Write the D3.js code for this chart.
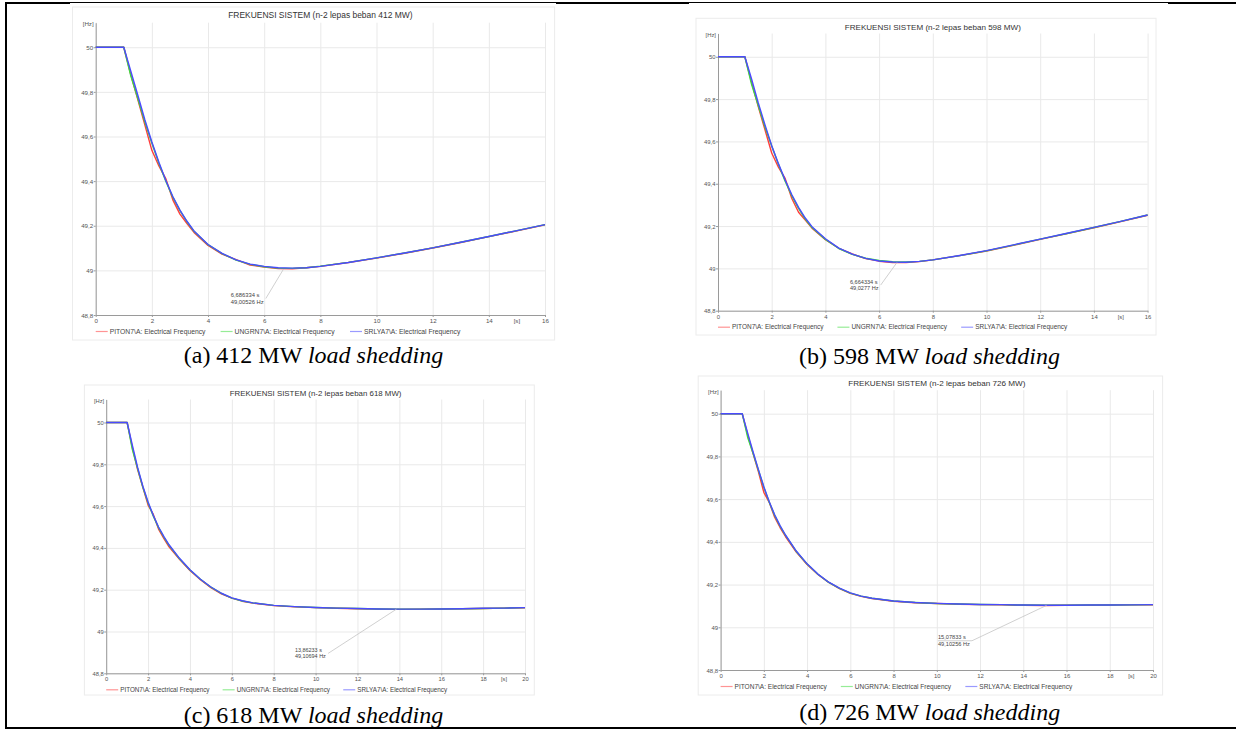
<!DOCTYPE html>
<html>
<head>
<meta charset="utf-8">
<script src="https://cdn.jsdelivr.net/npm/d3@7"></script>
<style>
  body { margin: 0; background: #fff; }
  svg { display: block; }
</style>
</head>
<body>
<div id="chart"></div>
<script>
var svgWidth = 1236;
var svgHeight = 729;

// chart texts
var titles = [
  "FREKUENSI SISTEM (n-2 lepas beban 412 MW)",
  "FREKUENSI SISTEM (n-2 lepas beban 598 MW)",
  "FREKUENSI SISTEM (n-2 lepas beban 618 MW)",
  "FREKUENSI SISTEM (n-2 lepas beban 726 MW)"
];
var letters = ["(a)", "(b)", "(c)", "(d)"];
var loads = ["412 MW", "598 MW", "618 MW", "726 MW"];
var seriesNames = [
  "PITON7\\A: Electrical Frequency",
  "UNGRN7\\A: Electrical Frequency",
  "SRLYA7\\A: Electrical Frequency"
];

// ticks
var yTicks = [48.8, 49, 49.2, 49.4, 49.6, 49.8, 50];
var yTickLabels = ["48,8", "49", "49,2", "49,4", "49,6", "49,8", "50"];
var xTicks16 = [0, 2, 4, 6, 8, 10, 12, 14, 16];
var xTicks20 = [0, 2, 4, 6, 8, 10, 12, 14, 16, 18, 20];

// time [s]
var timeAB = [0, 1, 1.25, 1.5, 1.75, 2, 2.25, 2.5, 2.75, 3, 3.25, 3.5, 4, 4.5, 5, 5.5, 6, 6.5, 7, 7.5, 8, 9, 10, 11, 12, 13, 14, 15, 16];
var timeCD = [0, 1, 1.25, 1.5, 1.75, 2, 2.25, 2.5, 2.75, 3, 3.5, 4, 4.5, 5, 5.5, 6, 6.5, 7, 8, 9, 10, 11, 12, 13, 14, 15, 16, 17, 18, 19, 20];

// frequency [Hz] - 412 MW
var pitonA = [50, 50, 49.878, 49.765, 49.652, 49.538, 49.468, 49.41, 49.315, 49.252, 49.21, 49.17, 49.112, 49.073, 49.048, 49.024, 49.015, 49.008, 49.007, 49.012, 49.018, 49.035, 49.055, 49.077, 49.1, 49.125, 49.151, 49.177, 49.204];
var ungrnA = [50, 50, 49.872, 49.77, 49.665, 49.57, 49.48, 49.398, 49.327, 49.268, 49.218, 49.175, 49.115, 49.075, 49.046, 49.027, 49.016, 49.01, 49.009, 49.012, 49.019, 49.036, 49.056, 49.078, 49.101, 49.126, 49.152, 49.178, 49.205];
var srlyaA = [50, 50, 49.893, 49.785, 49.675, 49.575, 49.485, 49.402, 49.33, 49.27, 49.22, 49.177, 49.116, 49.076, 49.047, 49.028, 49.018, 49.012, 49.01, 49.012, 49.018, 49.035, 49.056, 49.078, 49.101, 49.126, 49.152, 49.178, 49.205];

// 598 MW
var pitonB = [50, 50, 49.88, 49.765, 49.655, 49.545, 49.478, 49.425, 49.33, 49.265, 49.228, 49.19, 49.136, 49.095, 49.068, 49.046, 49.034, 49.027, 49.027, 49.032, 49.04, 49.06, 49.082, 49.109, 49.137, 49.164, 49.192, 49.221, 49.251];
var ungrnB = [50, 50, 49.87, 49.77, 49.668, 49.578, 49.492, 49.412, 49.343, 49.283, 49.233, 49.193, 49.137, 49.094, 49.066, 49.048, 49.037, 49.031, 49.03, 49.033, 49.04, 49.06, 49.083, 49.11, 49.138, 49.165, 49.193, 49.222, 49.252];
var srlyaB = [50, 50, 49.895, 49.782, 49.678, 49.58, 49.495, 49.418, 49.348, 49.288, 49.238, 49.197, 49.14, 49.096, 49.067, 49.047, 49.035, 49.03, 49.029, 49.033, 49.04, 49.061, 49.084, 49.111, 49.138, 49.166, 49.194, 49.222, 49.252];

// 618 MW
var pitonC = [50, 50, 49.88, 49.775, 49.69, 49.605, 49.56, 49.49, 49.445, 49.405, 49.345, 49.292, 49.248, 49.21, 49.18, 49.16, 49.145, 49.136, 49.124, 49.118, 49.114, 49.111, 49.109, 49.107, 49.106, 49.107, 49.108, 49.109, 49.11, 49.112, 49.113];
var ungrnC = [50, 50, 49.87, 49.78, 49.69, 49.615, 49.552, 49.497, 49.452, 49.412, 49.348, 49.294, 49.25, 49.212, 49.182, 49.16, 49.146, 49.137, 49.125, 49.119, 49.115, 49.112, 49.11, 49.108, 49.107, 49.107, 49.108, 49.109, 49.11, 49.112, 49.114];
var srlyaC = [50, 50, 49.89, 49.785, 49.695, 49.62, 49.555, 49.5, 49.455, 49.415, 49.35, 49.295, 49.25, 49.213, 49.183, 49.161, 49.147, 49.137, 49.125, 49.119, 49.115, 49.112, 49.11, 49.108, 49.107, 49.107, 49.108, 49.109, 49.111, 49.112, 49.114];

// 726 MW
var pitonD = [50, 50, 49.902, 49.815, 49.728, 49.632, 49.585, 49.515, 49.467, 49.425, 49.352, 49.294, 49.247, 49.21, 49.181, 49.159, 49.145, 49.135, 49.122, 49.115, 49.111, 49.108, 49.106, 49.105, 49.103, 49.102, 49.103, 49.103, 49.104, 49.105, 49.105];
var ungrnD = [50, 50, 49.89, 49.815, 49.735, 49.655, 49.585, 49.524, 49.473, 49.43, 49.355, 49.296, 49.248, 49.21, 49.182, 49.16, 49.146, 49.136, 49.123, 49.116, 49.111, 49.109, 49.107, 49.106, 49.104, 49.103, 49.103, 49.104, 49.104, 49.105, 49.106];
var srlyaD = [50, 50, 49.91, 49.822, 49.738, 49.658, 49.588, 49.527, 49.476, 49.432, 49.357, 49.297, 49.249, 49.211, 49.183, 49.161, 49.146, 49.136, 49.123, 49.116, 49.112, 49.109, 49.107, 49.106, 49.104, 49.103, 49.103, 49.104, 49.104, 49.105, 49.106];

// minimum markers
var minTimes = [6.686334, 6.664334, 13.86233, 15.07833];
var minFreqs = [49.00526, 49.0277, 49.10694, 49.10256];
var minTimeLabels = ["6,686334 s", "6,664334 s", "13,86233 s", "15,07833 s"];
var minFreqLabels = ["49,00526 Hz", "49,0277 Hz", "49,10694 Hz", "49,10256 Hz"];

var times = [timeAB, timeAB, timeCD, timeCD];
var freqs = [[pitonA, ungrnA, srlyaA], [pitonB, ungrnB, srlyaB], [pitonC, ungrnC, srlyaC], [pitonD, ungrnD, srlyaD]];
var xTickSets = [xTicks16, xTicks16, xTicks20, xTicks20];

// panel layout (pixels)
var panels = [
  { box: [72.5, 7, 554.6, 340], px: [95.7, 545], py: [315, 22.7], titleY: 15, note: [-52.8, 25.8], underline: false, cap: [313.5, 363] },
  { box: [696, 18.3, 1156, 335], px: [718, 1147.6], py: [310.7, 33.5], titleY: 26.7, note: [-47, 19.2], underline: false, cap: [929.5, 363.5] },
  { box: [84.4, 385, 534.3, 695], px: [106.2, 525], py: [673.3, 399.5], titleY: 393.3, note: [-101.5, 41], underline: false, cap: [313.5, 723] },
  { box: [698.2, 376, 1162.6, 695], px: [720.6, 1153], py: [670, 390.2], titleY: 383.3, note: [-108.6, 32], underline: true, cap: [929.7, 720] }
];

var lineColors = ["#ff3c3c", "#3ed83e", "#4a4aff"];
var legendColors = ["#ff9494", "#96ec96", "#9a9aff"];
var sans = "'Liberation Sans', Arial, sans-serif";

var svg = d3.select("#chart")
  .append("svg")
  .attr("width", svgWidth)
  .attr("height", svgHeight);

svg.append("rect").attr("width", svgWidth).attr("height", svgHeight).attr("fill", "#fff");

panels.forEach(function(p, i) {
  var g = svg.append("g");
  var W = p.px[1] - p.px[0];
  var H = p.py[0] - p.py[1];
  var fsTitle = W * 0.0188, fsLegend = W * 0.0151, fsTick = W * 0.0138, fsNote = W * 0.013;
  var xt = xTickSets[i];
  var tmax = xt[xt.length - 1];

  var x = d3.scaleLinear().domain([0, tmax]).range(p.px);
  var y = d3.scaleLinear().domain([48.8, 50.11]).range(p.py);

  // frame of the exported picture
  g.append("rect")
    .attr("x", p.box[0]).attr("y", p.box[1])
    .attr("width", p.box[2] - p.box[0]).attr("height", p.box[3] - p.box[1])
    .attr("fill", "#fff").attr("stroke", "#ececec").attr("stroke-width", 1);

  // grid
  g.append("g")
    .attr("transform", `translate(0, ${p.py[0]})`)
    .call(d3.axisBottom(x).tickValues(xt).tickSize(-H).tickFormat(""))
    .call(s => s.select(".domain").remove())
    .selectAll("line").attr("stroke", "#e9e9e9");

  g.append("g")
    .attr("transform", `translate(${p.px[0]}, 0)`)
    .call(d3.axisLeft(y).tickValues(yTicks).tickSize(-W).tickFormat(""))
    .call(s => s.select(".domain").remove())
    .selectAll("line").attr("stroke", "#e9e9e9");

  // axes
  var yAxis = g.append("g")
    .attr("transform", `translate(${p.px[0]}, 0)`)
    .call(d3.axisLeft(y).tickValues(yTicks).tickSize(2).tickSizeOuter(0)
      .tickFormat((d, k) => yTickLabels[k]));
  yAxis.select(".domain").attr("stroke", "#9a9a9a");
  yAxis.selectAll("line").attr("stroke", "#9a9a9a");
  yAxis.selectAll("text")
    .attr("x", -2.5).attr("dy", "0.35em")
    .attr("fill", "#555").style("font-family", sans).style("font-size", fsTick + "px");

  var xAxis = g.append("g")
    .attr("transform", `translate(0, ${p.py[0]})`)
    .call(d3.axisBottom(x).tickValues(xt).tickSize(2).tickSizeOuter(0));
  xAxis.select(".domain").attr("stroke", "#9a9a9a");
  xAxis.selectAll("line").attr("stroke", "#9a9a9a");
  xAxis.selectAll("text")
    .attr("y", 6).attr("dy", "0.35em")
    .attr("fill", "#555").style("font-family", sans).style("font-size", fsTick + "px");

  g.append("text")
    .attr("x", x((xt[xt.length - 2] + tmax) / 2)).attr("y", p.py[0] + 6).attr("dy", "0.35em")
    .attr("text-anchor", "middle")
    .attr("fill", "#555").style("font-family", sans).style("font-size", fsTick + "px")
    .text("[s]");

  g.append("text")
    .attr("x", p.px[0] - 2).attr("y", p.py[1] + 1.5).attr("dy", "0.35em")
    .attr("text-anchor", "end")
    .attr("fill", "#555").style("font-family", sans).style("font-size", fsTick + "px")
    .text("[Hz]");

  // title
  g.append("text")
    .attr("x", (p.px[0] + p.px[1]) / 2).attr("y", p.titleY).attr("dy", "0.35em")
    .attr("text-anchor", "middle")
    .attr("fill", "#333").style("font-family", sans).style("font-size", fsTitle + "px")
    .text(titles[i]);

  // curves
  var line = d3.line()
    .x(d => x(d[0]))
    .y(d => y(d[1]));

  freqs[i].forEach(function(vals, k) {
    var pts = times[i].map((t, j) => [t, vals[j]]);
    g.append("path")
      .datum(pts)
      .attr("d", line)
      .attr("fill", "none")
      .attr("stroke", lineColors[k])
      .attr("stroke-width", 1.4)
      .attr("stroke-linejoin", "round");
  });

  // minimum annotation
  var mx = x(minTimes[i]), my = y(minFreqs[i]);
  var tx = mx + p.note[0], ty = my + p.note[1];
  var noteText = g.append("text")
    .attr("fill", "#444").style("font-family", sans).style("font-size", fsNote + "px");
  noteText.append("tspan").attr("x", tx).attr("y", ty).attr("dy", "0.35em").text(minTimeLabels[i]);
  noteText.append("tspan").attr("x", tx).attr("y", ty + fsNote * 1.15).attr("dy", "0.35em").text(minFreqLabels[i]);
  var tw = noteText.node().getBBox().width;
  var sx = tx + tw + 2, sy = ty + fsNote * 0.6;
  var lead = p.underline ? [[tx, sy], [sx, sy], [mx, my]] : [[sx, sy], [mx, my]];
  g.append("path")
    .attr("d", d3.line()(lead))
    .attr("fill", "none").attr("stroke", "#c4c4c4").attr("stroke-width", 0.8);

  // legend
  var legendX = [0, 0.278, 0.566];
  var ly = p.py[0] + 16.5;
  seriesNames.forEach(function(name, k) {
    var lx = p.px[0] + legendX[k] * W;
    g.append("line")
      .attr("x1", lx).attr("x2", lx + 12).attr("y1", ly).attr("y2", ly)
      .attr("stroke", legendColors[k]).attr("stroke-width", 1.2);
    g.append("text")
      .attr("x", lx + 14).attr("y", ly).attr("dy", "0.35em")
      .attr("fill", "#444").style("font-family", sans).style("font-size", fsLegend + "px")
      .text(name);
  });

  // caption
  var cap = svg.append("text")
    .attr("x", p.cap[0]).attr("y", p.cap[1])
    .attr("text-anchor", "middle")
    .attr("fill", "#000")
    .style("font-family", "'Liberation Serif', 'Times New Roman', serif")
    .style("font-size", "24px");
  cap.append("tspan").text(letters[i] + " " + loads[i] + " ");
  cap.append("tspan").style("font-style", "italic").text("load shedding");
});

// table border
svg.append("line").attr("x1", 5).attr("x2", svgWidth).attr("y1", 2.5).attr("y2", 2.5)
  .attr("stroke", "#000").attr("stroke-width", 1);
[[5, 70], [556, 689], [1168, svgWidth]].forEach(function(s) {
  svg.append("line").attr("x1", s[0]).attr("x2", s[1]).attr("y1", 3.5).attr("y2", 3.5)
    .attr("stroke", "#000").attr("stroke-width", 1);
});
svg.append("line").attr("x1", 6).attr("x2", 6).attr("y1", 2).attr("y2", 729)
  .attr("stroke", "#000").attr("stroke-width", 2);
svg.append("line").attr("x1", 5).attr("x2", svgWidth).attr("y1", 728).attr("y2", 728)
  .attr("stroke", "#000").attr("stroke-width", 2);
</script>
</body>
</html>
